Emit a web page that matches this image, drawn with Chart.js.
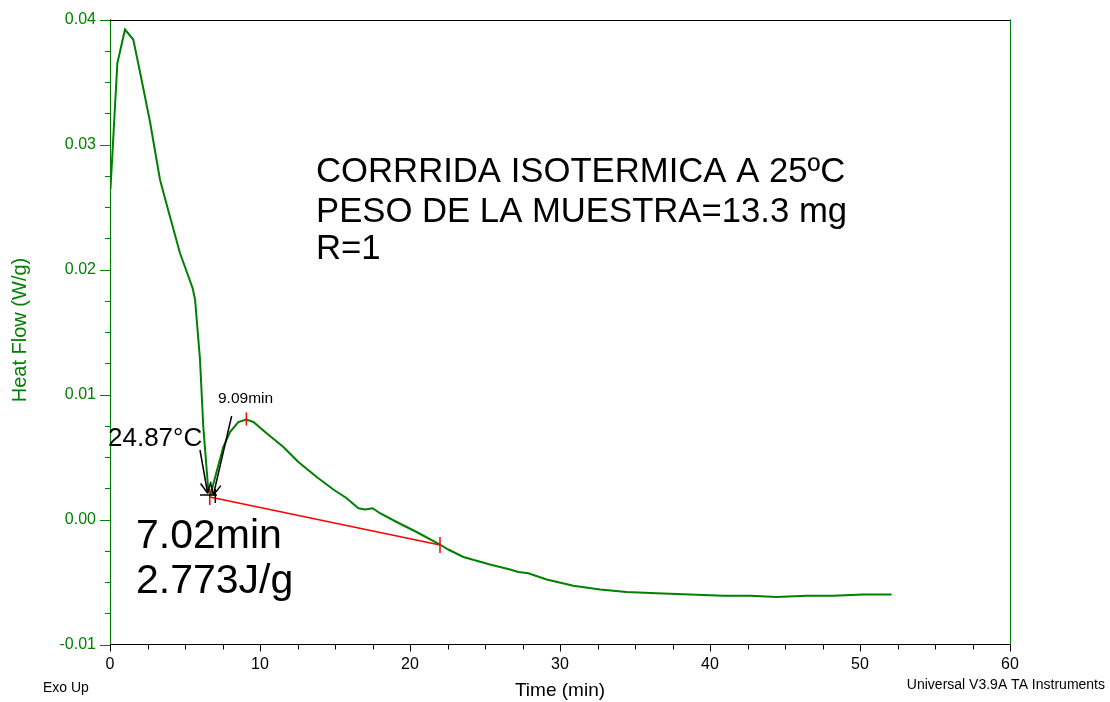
<!DOCTYPE html>
<html>
<head>
<meta charset="utf-8">
<script src="https://cdn.jsdelivr.net/npm/chart.js@4.4.0/dist/chart.umd.min.js"></script>
<style>
  html, body { margin: 0; padding: 0; background: #fff; }
  canvas { display: block; }
</style>
</head>
<body>
<canvas id="dscChart" width="1110" height="702"></canvas>
<script>
// Isothermal DSC run: time (min) vs heat flow (W/g)
const timeMin = [0.03, 0.49, 1.0, 1.55, 2.0, 2.67, 3.0, 3.33, 3.89, 4.67, 5.51, 5.67, 6.0, 6.22, 6.55, 6.7,
  7.55, 8.0, 8.55, 9.09, 9.56, 10.44, 11.56, 12.56, 13.78, 14.89, 15.78, 16.56, 17.0, 17.51, 18.0, 19.11,
  20.44, 22.0, 22.55, 23.56, 25.33, 26.67, 27.22, 27.89, 29.11, 30.89, 32.67, 34.44, 36.44, 38.67, 40.89,
  42.67, 44.44, 46.44, 48.22, 50.22, 52.11];
const heatFlow = [0.0264, 0.0365, 0.0392, 0.0384, 0.0358, 0.0318, 0.0295, 0.0272, 0.0247, 0.0213,
  0.0185, 0.0176, 0.0128, 0.0074, 0.0024, 0.0020,
  0.0058, 0.0070, 0.0078, 0.0080, 0.0078, 0.0069, 0.0058, 0.0046, 0.0034, 0.0024, 0.0017, 0.0009, 0.0008,
  0.0009, 0.0005, -0.0002, -0.0010, -0.0020, -0.0024, -0.0030, -0.0036, -0.0040, -0.0042, -0.0043,
  -0.0048, -0.0053, -0.0056, -0.0058, -0.0059, -0.0060, -0.0061, -0.0061, -0.0062, -0.0061, -0.0061,
  -0.0060, -0.0060];

// integration baseline (start, end)
const baseTime = [6.65, 22.0];
const baseFlow = [0.0018, -0.00204];

// peak and onset markers
const peakTime = 9.09;
const peakFlow = 0.0080;
const onsetTime = 7.02;
const onsetFlow = 0.00196;

// arrows: [tailTime, tailFlow, tipTime, tipFlow]
const arrows = [
  [6.0, 0.00556, 6.51, 0.0021],
  [8.11, 0.00828, 6.89, 0.00196]
];

const xMin = 0, xMax = 60, xStep = 2.5;
const yMin = -0.01, yMax = 0.04, yStep = 0.0025;

const FONT = '"Liberation Sans", Arial, sans-serif';
const GREEN = '#008000';
Chart.defaults.font.family = FONT;

function isMajor(v, unit) {
  const r = v / unit;
  return Math.abs(r - Math.round(r)) < 1e-6;
}

const decorations = {
  id: 'decorations',
  afterDraw(chart) {
    const { ctx, chartArea: a, scales: { x, y } } = chart;
    const seg = (x0, y0, x1, y1) => { ctx.beginPath(); ctx.moveTo(x0, y0); ctx.lineTo(x1, y1); ctx.stroke(); };
    ctx.save();
    ctx.lineWidth = 1;

    // frame: black top, green right
    ctx.strokeStyle = '#000';
    seg(a.left, Math.round(a.top) + 0.5, a.right, Math.round(a.top) + 0.5);
    ctx.strokeStyle = GREEN;
    seg(Math.round(a.right) + 0.5, a.top, Math.round(a.right) + 0.5, a.bottom);

    // tick marks
    ctx.strokeStyle = '#000';
    x.ticks.forEach(t => {
      const px = Math.round(x.getPixelForValue(t.value)) + 0.5;
      seg(px, a.bottom, px, a.bottom + (isMajor(t.value, 10) ? 7 : 5));
    });
    ctx.strokeStyle = GREEN;
    y.ticks.forEach(t => {
      const py = Math.round(y.getPixelForValue(t.value)) + 0.5;
      seg(a.left - (isMajor(t.value, 0.01) ? 10 : 5), py, a.left, py);
    });

    // baseline end ticks and peak tick (red)
    ctx.strokeStyle = '#ff0000';
    ctx.lineWidth = 1.5;
    baseTime.forEach((t, i) => {
      const px = x.getPixelForValue(t), py = y.getPixelForValue(baseFlow[i]);
      seg(px, py - 8, px, py + 8);
    });
    const pk = x.getPixelForValue(peakTime), pky = y.getPixelForValue(peakFlow);
    seg(pk, pky - 7, pk, pky + 6);

    // onset cross and arrows (black)
    ctx.strokeStyle = '#000';
    ctx.lineWidth = 1.5;
    const ox = x.getPixelForValue(onsetTime), oy = y.getPixelForValue(onsetFlow);
    seg(x.getPixelForValue(6.0), oy, x.getPixelForValue(7.13), oy);
    seg(ox, oy - 6, ox, oy + 8);
    arrows.forEach(([t0, v0, t1, v1]) => {
      const x0 = x.getPixelForValue(t0), y0 = y.getPixelForValue(v0);
      const x1 = x.getPixelForValue(t1), y1 = y.getPixelForValue(v1);
      seg(x0, y0, x1, y1);
      const ang = Math.atan2(y1 - y0, x1 - x0);
      [0.45, -0.45].forEach(d => seg(x1, y1, x1 - 12 * Math.cos(ang + d), y1 - 12 * Math.sin(ang + d)));
    });

    // texts
    ctx.fillStyle = '#000';
    ctx.textAlign = 'left';
    ctx.textBaseline = 'alphabetic';
    ctx.font = '26px ' + FONT;
    ctx.fillText('24.87°C', 108, 446);
    ctx.font = '15.5px ' + FONT;
    ctx.fillText(peakTime.toFixed(2) + 'min', 218, 403);
    ctx.font = '41px ' + FONT;
    ctx.fillText(onsetTime.toFixed(2) + 'min', 136, 548);
    ctx.fillText('2.773J/g', 136, 593);
    ctx.font = '34.7px ' + FONT;
    ctx.fillText('CORRRIDA ISOTERMICA A 25ºC', 316, 182);
    ctx.fillText('PESO DE LA MUESTRA=13.3 mg', 316, 222);
    ctx.fillText('R=1', 316, 259);

    ctx.font = '14px ' + FONT;
    ctx.fillText('Exo Up', 43, 692);
    ctx.textAlign = 'right';
    ctx.fillText('Universal V3.9A TA Instruments', 1105, 689);

    // axis titles
    ctx.textAlign = 'center';
    ctx.textBaseline = 'middle';
    ctx.font = '19px ' + FONT;
    ctx.fillText('Time (min)', 560, 691);
    ctx.fillStyle = GREEN;
    ctx.font = '20px ' + FONT;
    ctx.translate(20, 330);
    ctx.rotate(-Math.PI / 2);
    ctx.fillText('Heat Flow (W/g)', 0, 0);
    ctx.restore();
  }
};

new Chart(document.getElementById('dscChart'), {
  type: 'line',
  data: {
    datasets: [{
      data: timeMin.map((t, i) => ({ x: t, y: heatFlow[i] })),
      borderColor: GREEN,
      borderWidth: 2,
      pointRadius: 0,
      tension: 0
    }, {
      data: baseTime.map((t, i) => ({ x: t, y: baseFlow[i] })),
      borderColor: '#ff0000',
      borderWidth: 1.5,
      pointRadius: 0,
      tension: 0
    }]
  },
  options: {
    responsive: false,
    animation: false,
    layout: { padding: { top: 19.5, right: 100, bottom: 0, left: 0 } },
    plugins: { legend: { display: false }, tooltip: { enabled: false } },
    scales: {
      x: {
        type: 'linear',
        min: xMin,
        max: xMax,
        afterFit: s => { s.height = 57.5; },
        border: { color: '#000' },
        grid: { drawOnChartArea: false, drawTicks: false },
        ticks: {
          stepSize: xStep,
          padding: 10,
          color: '#000',
          font: { size: 16 },
          maxRotation: 0,
          autoSkip: false,
          callback: v => isMajor(v, 10) ? String(Math.round(v)) : ''
        }
      },
      y: {
        min: yMin,
        max: yMax,
        afterFit: s => { s.width = 110; s.paddingTop = 0; s.paddingBottom = 0; },
        border: { color: GREEN },
        grid: { drawOnChartArea: false, drawTicks: false },
        ticks: {
          stepSize: yStep,
          padding: 14,
          color: GREEN,
          font: { size: 16 },
          autoSkip: false,
          callback: v => isMajor(v, 0.01) ? v.toFixed(2) : ''
        }
      }
    }
  },
  plugins: [decorations]
});
</script>
</body>
</html>
